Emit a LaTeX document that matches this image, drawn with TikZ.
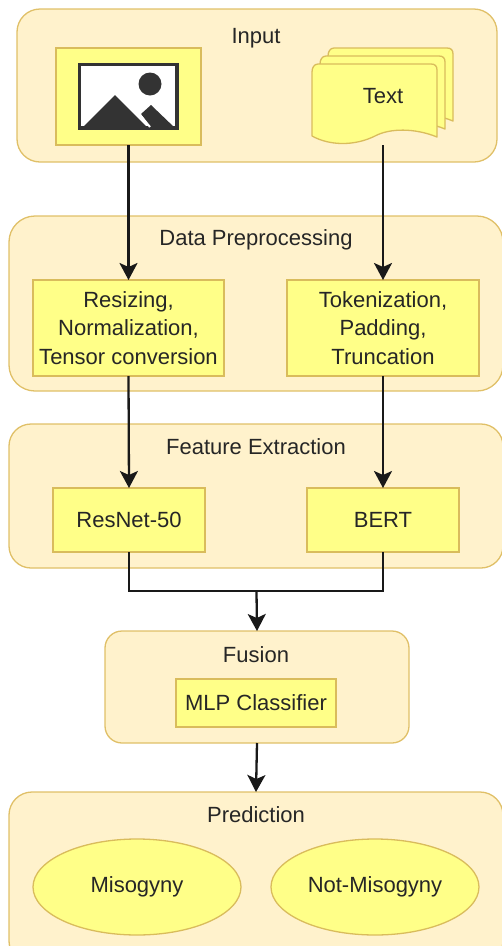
\documentclass[tikz,border=0pt]{standalone}
\usepackage{fontspec}
\setmainfont{Liberation Sans}
\usetikzlibrary{shapes.geometric, arrows.meta, calc}
\definecolor{groupfill}{HTML}{FFF2CC}
\definecolor{groupline}{HTML}{E0C068}
\definecolor{stepfill}{HTML}{FFFF88}
\definecolor{stepline}{HTML}{D9BC5C}
\definecolor{icongray}{HTML}{333333}
\tikzstyle{group} = [rectangle, 
draw=groupline, 
fill=groupfill, 
line width=1.3pt,
outer sep=0pt]
\tikzstyle{title} = [inner sep=0pt, text=black!85]
\tikzstyle{stepbox} = [rectangle, 
align=center,
draw=stepline, 
fill=stepfill, 
line width=1.3pt,
inner sep=0pt,
outer sep=0pt,
text=black!85]
\tikzstyle{outcome} = [ellipse, 
minimum width=208pt, 
minimum height=96pt, 
draw=stepline, 
fill=stepfill, 
line width=1.3pt,
inner sep=0pt,
outer sep=0pt,
text=black!85]
\tikzstyle{arrow} = [line width=2.3pt, draw=black!90, -{Stealth[length=17pt, width=18pt, inset=4pt]}]
\tikzstyle{line} = [line width=2.3pt, draw=black!90]

\begin{document}
\begin{tikzpicture}[x=1pt, y=-1pt, font=\fontsize{22}{28.5}\selectfont]
\useasboundingbox (0,0) rectangle (502,946);

% Groups
\node (input) [group, rounded corners=23pt, minimum width=480pt, minimum height=153pt] at (257,85.5) {};
\node (prep) [group, rounded corners=26pt, minimum width=494pt, minimum height=175pt] at (256,303.5) {};
\node (feat) [group, rounded corners=22pt, minimum width=494pt, minimum height=144pt] at (256,496) {};
\node (fusion) [group, rounded corners=17pt, minimum width=304pt, minimum height=112pt] at (257,687) {};
\node (pred) [group, rounded corners=23pt, minimum width=494pt, minimum height=172pt] at (256,878) {};

\node (inputtitle) [title] at (256,38) {Input};
\node (preptitle) [title] at (256,240) {Data Preprocessing};
\node (feattitle) [title] at (256,447) {Feature Extraction};
\node (fusiontitle) [title] at (256,655) {Fusion};
\node (predtitle) [title] at (256,815) {Prediction};

% Image
\node (image) [stepbox, minimum width=145pt, minimum height=97pt] at (128.5,96.5) {};
\draw [line width=3.4pt, draw=icongray, fill=white] (79.5,64.5) rectangle (177,128);
\fill [icongray] (150,84) circle (11.5pt);
\fill [icongray] (82,128) -- (115,95) -- (148,128) -- cycle;
\fill [icongray] (141,114) -- (151,105) -- (175,128) -- (151,128) -- cycle;
\draw [white, line width=2pt] (137,111) -- (150,127);

% Text
\foreach \off in {16,8,0}{
\draw [stepbox, line join=round] ($(312,136)+(\off,-\off)$) -- ++(0,-64) .. controls ($(312,68)+(\off,-\off)$) and ($(314,64)+(\off,-\off)$) .. ($(318,64)+(\off,-\off)$) -- ($(431,64)+(\off,-\off)$) .. controls ($(435,64)+(\off,-\off)$) and ($(437,66)+(\off,-\off)$) .. ($(437,70)+(\off,-\off)$) -- ($(437,137)+(\off,-\off)$) .. controls ($(415,128)+(\off,-\off)$) and ($(390,128)+(\off,-\off)$) .. ($(375,136)+(\off,-\off)$) .. controls ($(355,146)+(\off,-\off)$) and ($(330,146)+(\off,-\off)$) .. cycle;
}
\node (text) [minimum width=125pt, minimum height=98pt, inner sep=0pt, outer sep=0pt, text=black!85] at (383,96) {Text};

% Steps
\node (resize) [stepbox, minimum width=191pt, minimum height=96pt] at (128.5,328) {Resizing,\\Normalization,\\Tensor conversion};
\node (token) [stepbox, minimum width=192pt, minimum height=96pt] at (383,328) {Tokenization,\\Padding,\\Truncation};
\node (resnet) [stepbox, minimum width=152pt, minimum height=64pt] at (129,520) {ResNet-50};
\node (bert) [stepbox, minimum width=152pt, minimum height=64pt] at (383,520) {BERT};
\node (mlp) [stepbox, minimum width=160pt, minimum height=48pt] at (256,703) {MLP Classifier};
\node (miso) [outcome] at (137,887) {Misogyny};
\node (notmiso) [outcome] at (375,887) {Not-Misogyny};

\coordinate (merge) at (256.5,591);

\draw [arrow] (image.south) -- (resize.north);
\draw [arrow] (text.south) -- (token.north);
\draw [arrow] (resize.south) -- (resnet.north);
\draw [arrow] (token.south) -- (bert.north);
\draw [line] (resnet.south) |- (merge);
\draw [line] (bert.south) |- (merge);
\draw [arrow] (merge) -- (fusion.north);
\draw [arrow] (fusion.south) -- (pred.north);

\end{tikzpicture}
\end{document}
